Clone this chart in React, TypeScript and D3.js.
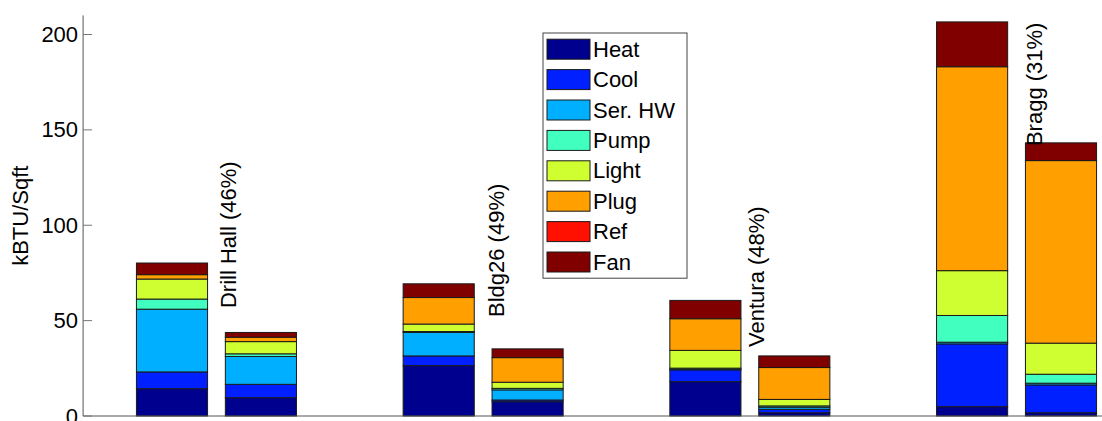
import React from "react";
import * as d3 from "d3";

// Energy end-use intensity, baseline vs. retrofit, for four buildings
const buildings = ["Drill Hall", "Bldg26", "Ventura", "Bragg"];
const savings = ["46%", "49%", "48%", "31%"];
const barPositions = [1, 2, 4, 5, 7, 8, 10, 11];

const endUses = ["Heat", "Cool", "Ser. HW", "Pump", "Light", "Plug", "Ref", "Fan"];
const heat = [14.3, 9.6, 26.4, 7.5, 18.0, 1.7, 4.9, 1.7];
const cool = [8.8, 7.0, 5.1, 0.9, 6.2, 1.8, 32.9, 14.6];
const serHW = [32.9, 14.6, 12.3, 5.3, 0.3, 1.1, 0.9, 0.9];
const pump = [5.3, 1.4, 0.5, 0.8, 0.6, 0.7, 14.0, 4.7];
const light = [10.5, 6.4, 3.9, 3.2, 9.3, 3.4, 23.5, 16.3];
const plug = [2.3, 2.3, 13.9, 12.9, 16.6, 16.7, 106.9, 95.7];
const refrig = [0, 0, 0, 0, 0, 0, 0, 0];
const fan = [6.1, 2.5, 7.2, 4.6, 9.6, 6.1, 23.5, 9.3];

const yTicks = [0, 50, 100, 150, 200];

// label anchor for each building annotation, in data units
const labelX = [1.63, 4.655, 7.58, 10.7];
const labelY = [56.6, 51.9, 36.2, 141.5];

// jet colormap sampled at 8 levels
const colors = ["#00008f", "#0020ff", "#00afff", "#40ffbf", "#cfff30", "#ff9f00", "#ff1000", "#800000"];

const FONT = "'Liberation Sans', Arial, sans-serif";

export default function App() {
  const width = 1102;
  const height = 421;

  const x = d3.scaleLinear().domain([0, 12]).range([83.1, 83.1 + 12 * 88.9]);
  const y = d3.scaleLinear().domain([0, 200]).range([416, 34.5]);
  const yTop = y(210);
  const barW = x(0.8) - x(0);

  const seriesValues = [heat, cool, serHW, pump, light, plug, refrig, fan];
  const rows = barPositions.map((pos, i) => {
    const row: Record<string, number> = { pos };
    endUses.forEach((k, s) => (row[k] = seriesValues[s][i]));
    return row;
  });
  const stacked = d3.stack<Record<string, number>>().keys(endUses)(rows);

  const legendX = 543;
  const legendY = 33;
  const legendW = 144;
  const rowH = 30.4;
  const legendH = rowH * endUses.length + 2;

  return (
    <svg
      width={width}
      height={height}
      style={{ position: "absolute", left: 0, top: 0, background: "#fff" }}
      fontFamily={FONT}
    >
      <rect x={0} y={0} width={width} height={height} fill="#fff" />

      {/* stacked bars */}
      {stacked.map((layer, s) => (
        <g key={endUses[s]}>
          {layer.map((d, i) => (
            <rect
              key={i}
              x={x(d.data.pos) - barW / 2}
              y={y(d[1])}
              width={barW}
              height={Math.max(0, y(d[0]) - y(d[1]))}
              fill={colors[s]}
              stroke="#1a1a1a"
              strokeWidth={1}
            />
          ))}
        </g>
      ))}

      {/* building annotations */}
      {buildings.map((b, i) => (
        <text
          key={b}
          transform={`translate(${x(labelX[i])},${y(labelY[i])}) rotate(-90)`}
          fontSize={22}
          dominantBaseline="central"
          textAnchor="start"
          fill="#000"
        >
          {`${b} (${savings[i]})`}
        </text>
      ))}

      {/* axes */}
      <line x1={x(0)} x2={width} y1={y(0)} y2={y(0)} stroke="#555" strokeWidth={1} />
      <line x1={x(0)} x2={x(0)} y1={yTop} y2={y(0)} stroke="#555" strokeWidth={1} />
      {yTicks.map((t) => (
        <g key={t}>
          <line x1={x(0)} x2={x(0) + 9} y1={y(t)} y2={y(t)} stroke="#777" strokeWidth={1} />
          <text x={x(0) - 5} y={y(t)} fontSize={22} textAnchor="end" dominantBaseline="central" fill="#000">
            {t}
          </text>
        </g>
      ))}
      <text
        transform={`translate(20,${(yTop + y(0)) / 2}) rotate(-90)`}
        fontSize={22}
        textAnchor="middle"
        dominantBaseline="central"
        fill="#000"
      >
        kBTU/Sqft
      </text>

      {/* legend */}
      <rect x={legendX} y={legendY} width={legendW} height={legendH} fill="#fff" stroke="#444" strokeWidth={1} />
      {endUses.map((k, i) => {
        const cy = legendY + 1 + rowH * (i + 0.5);
        return (
          <g key={k}>
            <rect x={legendX + 4} y={cy - 10} width={43} height={20} fill={colors[i]} stroke="#1a1a1a" strokeWidth={1} />
            <text x={legendX + 50} y={cy} fontSize={22} dominantBaseline="central" fill="#000">
              {k}
            </text>
          </g>
        );
      })}
    </svg>
  );
}
